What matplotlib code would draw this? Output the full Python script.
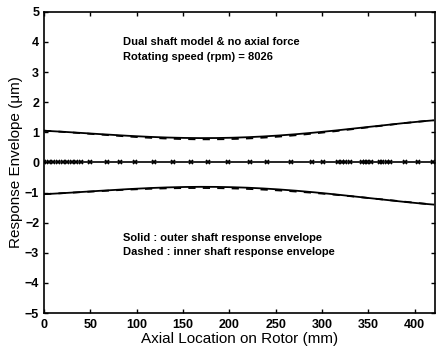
import matplotlib
matplotlib.use("Agg")
import matplotlib.pyplot as plt
import numpy as np

# Envelope sample locations (mm) and values (um)
env_x = [0, 50, 100, 150, 175, 200, 250, 300, 350, 420]
outer_env = [1.05, 0.97, 0.87, 0.81, 0.80, 0.82, 0.90, 1.02, 1.17, 1.40]
inner_env_upper = [1.05, 0.96, 0.84, 0.77, 0.76, 0.78, 0.86, 0.99, 1.16, 1.40]
inner_env_lower = [-1.05, -0.97, -0.89, -0.85, -0.84, -0.86, -0.93, -1.04, -1.17, -1.40]

# Node locations along the rotor (mm)
nodes = [0, 5, 10, 15, 20, 25, 30, 35, 40, 50, 68, 82, 98, 119, 139, 159, 177,
         198, 222, 241, 267, 289, 301, 317, 321, 325, 330, 343, 346, 349, 353,
         362, 365, 370, 373, 389, 403, 420]
node_y = [0.0] * len(nodes)

xticks = [0, 50, 100, 150, 200, 250, 300, 350, 400]
yticks = [-5, -4, -3, -2, -1, 0, 1, 2, 3, 4, 5]

plt.rcParams['font.family'] = ['Liberation Sans', 'DejaVu Sans']

fig = plt.figure(figsize=(4.36, 3.49), dpi=100)
ax = fig.add_axes([0.101, 0.103, 0.897, 0.863])

xs = np.linspace(0, 420, 200)
def smooth(vals):
    c = np.polyfit(env_x, vals, 4)
    return np.polyval(c, xs)

o = smooth(outer_env)
iu = smooth(inner_env_upper)
il = smooth(inner_env_lower)
ax.plot(xs, o, color='black', lw=1.3)
ax.plot(xs, -o, color='black', lw=1.3)
ax.plot(xs, iu, color='black', lw=1.3, ls=(0, (4, 4)))
ax.plot(xs, il, color='black', lw=1.3, ls=(0, (4, 4)))
ax.plot(nodes, node_y, color='black', lw=1.2, marker='x', ms=3.5, mew=1.2)

ax.set_xlim(0, 422)
ax.set_ylim(-5, 5)
ax.set_xticks(xticks)
ax.set_yticks(yticks)
ax.tick_params(direction='in', top=True, right=True, length=3, width=1,
               labelsize=9)
ax.tick_params(axis='x', pad=4)
for lab in ax.get_xticklabels() + ax.get_yticklabels():
    lab.set_fontweight('bold')
for s in ax.spines.values():
    s.set_linewidth(1.2)

ax.set_xlabel('Axial Location on Rotor (mm)', fontsize=11, labelpad=1)
ax.set_ylabel('Response Envelope (\u03bcm)', fontsize=11, labelpad=1)

ax.text(85, 4.0, 'Dual shaft model & no axial force', fontsize=8,
        fontweight='bold', va='center')
ax.text(85, 3.5, 'Rotating speed (rpm) = 8026', fontsize=8,
        fontweight='bold', va='center')
ax.text(85, -2.5, 'Solid : outer shaft response envelope', fontsize=8,
        fontweight='bold', va='center')
ax.text(85, -2.97, 'Dashed : inner shaft response envelope', fontsize=8,
        fontweight='bold', va='center')

fig.savefig('out.png', dpi=100)
